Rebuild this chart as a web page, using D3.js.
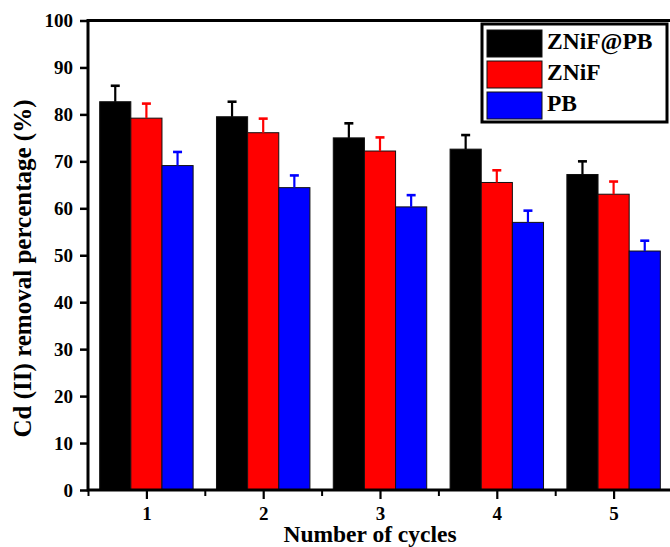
<!DOCTYPE html>
<html>
<head>
<meta charset="utf-8">
<script src="https://cdn.jsdelivr.net/npm/d3@7"></script>
<style>
  html, body { margin: 0; padding: 0; background: #fff; }
  svg { display: block; }
  text { font-family: "Liberation Serif", "Times New Roman", serif; font-weight: bold; fill: #000; }
</style>
</head>
<body>
<svg id="chart" width="670" height="547"></svg>
<script>
// Removal efficiency of Cd(II) over repeated adsorption cycles
const cycles = [1, 2, 3, 4, 5];
const seriesNames = ["ZNiF@PB", "ZNiF", "PB"];
const seriesColors = ["#000000", "#ff0000", "#0000ff"];
const znifPbValues = [82.7, 79.5, 75.0, 72.6, 67.2];
const znifPbErrors = [3.4, 3.2, 3.1, 3.0, 2.8];
const znifValues = [79.2, 76.1, 72.2, 65.5, 63.0];
const znifErrors = [3.1, 3.0, 2.9, 2.6, 2.7];
const pbValues = [69.1, 64.4, 60.3, 57.0, 50.9];
const pbErrors = [2.9, 2.6, 2.5, 2.5, 2.2];
const yTicks = [0, 10, 20, 30, 40, 50, 60, 70, 80, 90, 100];

const seriesValues = [znifPbValues, znifValues, pbValues];
const seriesErrors = [znifPbErrors, znifErrors, pbErrors];

const svg = d3.select("#chart");
const plot = { left: 88, right: 672, top: 20.5, bottom: 490 };

const x = d3.scaleLinear().domain([0.5, 5.5]).range([plot.left, plot.right]);
const y = d3.scaleLinear().domain([0, 100]).range([plot.bottom, plot.top]);
const groupWidth = x(0.8) - x(0);
const xSub = d3.scaleBand().domain(seriesNames).range([-groupWidth / 2, groupWidth / 2]);

// bars with error bars
seriesNames.forEach((name, si) => {
  const color = seriesColors[si];
  const rows = cycles.map((c, i) => ({ c, v: seriesValues[si][i], e: seriesErrors[si][i] }));
  const g = svg.append("g");
  g.selectAll("rect").data(rows).join("rect")
    .attr("x", d => x(d.c) + xSub(name))
    .attr("y", d => y(d.v))
    .attr("width", xSub.bandwidth())
    .attr("height", d => y(0) - y(d.v))
    .attr("fill", color)
    .attr("stroke", "#111")
    .attr("stroke-width", 1);
  const cx = d => x(d.c) + xSub(name) + xSub.bandwidth() / 2;
  g.selectAll("line.err").data(rows).join("line")
    .attr("class", "err")
    .attr("x1", cx).attr("x2", cx)
    .attr("y1", d => y(d.v)).attr("y2", d => y(d.v + d.e))
    .attr("stroke", color).attr("stroke-width", 2.2);
  g.selectAll("line.cap").data(rows).join("line")
    .attr("class", "cap")
    .attr("x1", d => cx(d) - 4.5).attr("x2", d => cx(d) + 4.5)
    .attr("y1", d => y(d.v + d.e)).attr("y2", d => y(d.v + d.e))
    .attr("stroke", color).attr("stroke-width", 2.6);
});

// y axis
const yAxis = d3.axisLeft(y).tickValues(yTicks).tickSize(8).tickPadding(7).tickFormat(d3.format("d"));
const gy = svg.append("g").attr("transform", `translate(${plot.left},0)`).call(yAxis);
gy.select(".domain").remove();
gy.selectAll(".tick line").attr("stroke", "#000").attr("stroke-width", 2.5);
gy.selectAll(".tick text").style("font-size", "19px").style("font-family", "Liberation Serif").style("font-weight", "bold");

// x axis: major ticks at cycles, minor ticks between groups
const xAxis = d3.axisBottom(x).tickValues(cycles).tickSize(9).tickPadding(8).tickFormat(d3.format("d"));
const gx = svg.append("g").attr("transform", `translate(0,${plot.bottom})`).call(xAxis);
gx.select(".domain").remove();
gx.selectAll(".tick line").attr("stroke", "#000").attr("stroke-width", 2.2);
gx.selectAll(".tick text").style("font-size", "19px").style("font-family", "Liberation Serif").style("font-weight", "bold");
const minor = d3.axisBottom(x).tickValues([0.5, 1.5, 2.5, 3.5, 4.5]).tickSize(6).tickFormat("");
const gm = svg.append("g").attr("transform", `translate(0,${plot.bottom})`).call(minor);
gm.select(".domain").remove();
gm.selectAll(".tick line").attr("stroke", "#000").attr("stroke-width", 2);

// frame
svg.append("rect")
  .attr("x", plot.left).attr("y", plot.top)
  .attr("width", plot.right - plot.left).attr("height", plot.bottom - plot.top)
  .attr("fill", "none").attr("stroke", "#000").attr("stroke-width", 3);

// axis titles
svg.append("text")
  .attr("transform", `translate(31,268.5) rotate(-90)`)
  .attr("text-anchor", "middle")
  .style("font-size", "25px")
  .text("Cd (II) removal percentage (%)");
svg.append("text")
  .attr("x", 370).attr("y", 542)
  .attr("text-anchor", "middle")
  .style("font-size", "23.5px")
  .text("Number of cycles");

// legend
const legend = svg.append("g");
legend.append("rect")
  .attr("x", 482).attr("y", 24).attr("width", 185).attr("height", 98)
  .attr("fill", "#fff").attr("stroke", "#000").attr("stroke-width", 3);
seriesNames.forEach((name, i) => {
  const top = 30 + i * 31;
  legend.append("rect")
    .attr("x", 487).attr("y", top).attr("width", 55).attr("height", 27)
    .attr("fill", seriesColors[i]).attr("stroke", "#111").attr("stroke-width", 1);
  legend.append("text")
    .attr("x", 547).attr("y", top + 19)
    .style("font-size", "23.5px")
    .text(name);
});
</script>
</body>
</html>
